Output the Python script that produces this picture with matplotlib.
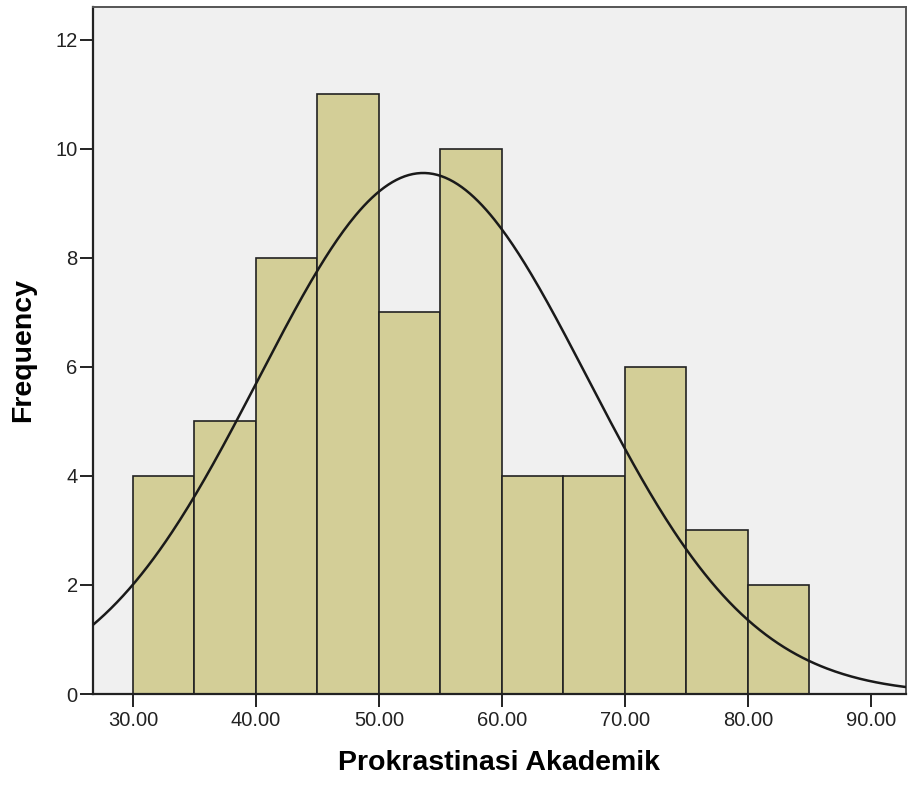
import numpy as np
import matplotlib
matplotlib.use("Agg")
import matplotlib.pyplot as plt

# Data
bin_edges = [30, 35, 40, 45, 50, 55, 60, 65, 70, 75, 80, 85]
counts = [4, 5, 8, 11, 7, 10, 4, 4, 6, 3, 2]
x_ticks = [30, 40, 50, 60, 70, 80, 90]
x_tick_labels = ["30.00", "40.00", "50.00", "60.00", "70.00", "80.00", "90.00"]
y_ticks = [0, 2, 4, 6, 8, 10, 12]
curve_mean = 53.6
curve_sd = 13.36
n_total = sum(counts)
bin_width = 5

plt.rcParams['font.family'] = ['Liberation Sans', 'DejaVu Sans']

fig = plt.figure(figsize=(9.14, 7.91), dpi=100)
ax = fig.add_axes([93/914, 1 - 694/791, (906-93)/914, (694-7)/791])
ax.set_facecolor("#F0F0F0")

lefts = bin_edges[:-1]
widths = np.diff(bin_edges)
ax.bar(lefts, counts, width=widths, align='edge', color="#D3CE97",
       edgecolor="#222222", linewidth=1.2, zorder=2)

xs = np.linspace(26.7, 92.9, 400)
ys = n_total * bin_width / (curve_sd * np.sqrt(2*np.pi)) * np.exp(-(xs - curve_mean)**2 / (2*curve_sd**2))
ax.plot(xs, ys, color="#1a1a1a", linewidth=1.8, zorder=3)

ax.set_xlim(26.75, 92.85)
ax.set_ylim(0, 12.6)
ax.set_xticks(x_ticks)
ax.set_xticklabels(x_tick_labels)
ax.set_yticks(y_ticks)

for s in ['left', 'bottom']:
    ax.spines[s].set_color("#222222")
    ax.spines[s].set_linewidth(1.6)
for s in ['top', 'right']:
    ax.spines[s].set_color("#555555")
    ax.spines[s].set_linewidth(1.4)

ax.tick_params(axis='both', direction='out', length=9.5, width=1.4, color="#222222",
               labelsize=14.5, labelcolor="#222222")
ax.tick_params(axis='x', pad=2.5)
ax.tick_params(axis='y', pad=1.5)

ax.set_xlabel("Prokrastinasi Akademik", fontsize=20.5, fontweight='bold', labelpad=15)
ax.set_ylabel("Frequency", fontsize=20.5, fontweight='bold', labelpad=14)

fig.savefig("out.png", dpi=100)
